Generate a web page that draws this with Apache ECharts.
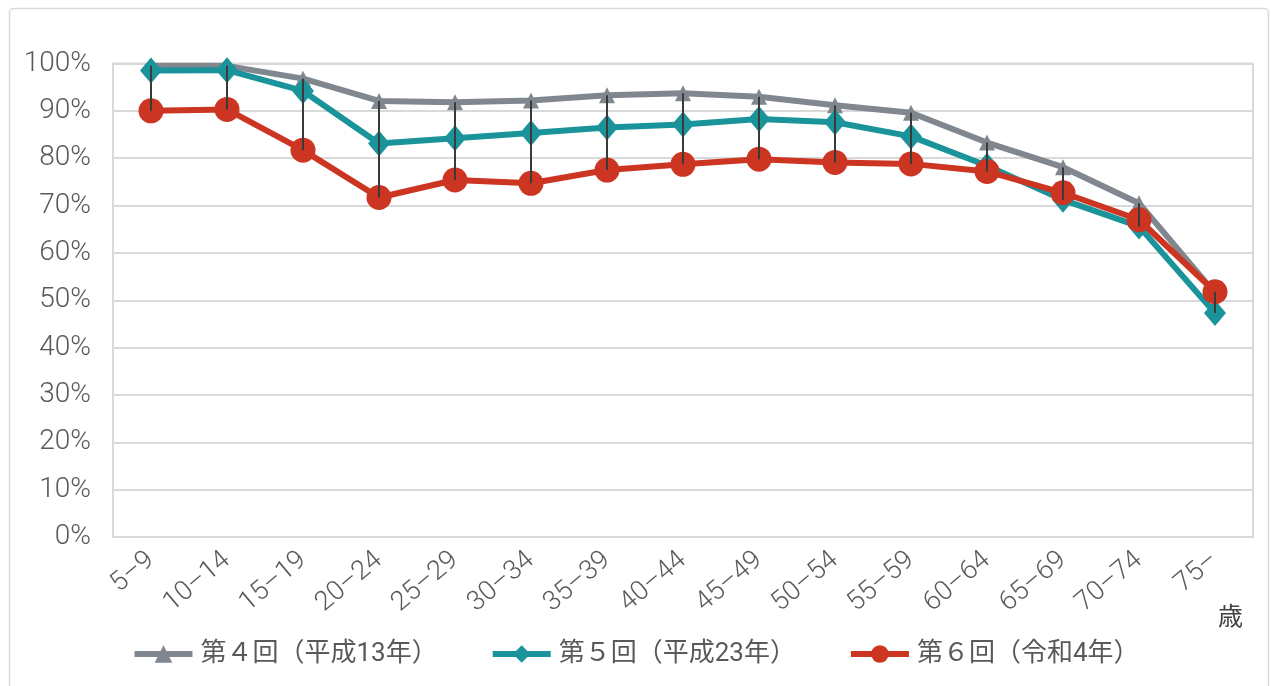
<!DOCTYPE html>
<html><head><meta charset="utf-8">
<script src="https://cdn.jsdelivr.net/npm/echarts@6/dist/echarts.min.js"></script>
<style>html,body{margin:0;padding:0;background:#fff}#c{width:1271px;height:686px}</style>
</head><body><div id="c"></div>
<script>
const categories = ['5–9','10–14','15–19','20–24','25–29','30–34','35–39','40–44','45–49','50–54','55–59','60–64','65–69','70–74','75–'];
const seriesNames = ['第４回（平成13年）','第５回（平成23年）','第６回（令和4年）'];
const survey4 = [99.5, 99.5, 96.8, 92.1, 91.8, 92.2, 93.3, 93.7, 93.0, 91.2, 89.6, 83.3, 78.1, 70.5, 51.5];
const survey5 = [98.5, 98.6, 94.2, 83.1, 84.2, 85.3, 86.5, 87.1, 88.3, 87.6, 84.6, 78.4, 71.2, 65.6, 47.3];
const survey6 = [90.0, 90.3, 81.7, 71.7, 75.4, 74.7, 77.5, 78.7, 79.8, 79.1, 78.8, 77.2, 72.7, 67.0, 51.8];
const unitLabel = '歳';

const FONT = "Roboto,'Noto Sans CJK JP',sans-serif";
const hiLo = categories.map((c, i) => {
  const v = [survey4[i], survey5[i], survey6[i]];
  return [i, Math.max(...v), Math.min(...v)];
});

const chart = echarts.init(document.getElementById('c'));
chart.setOption({
  animation: false,
  backgroundColor: '#fff',
  grid: { left: 113, right: 18, top: 63.5, bottom: 149, show: true, borderColor: '#d9d9d9', borderWidth: 2 },
  xAxis: {
    type: 'category', data: categories, boundaryGap: true,
    axisLine: { show: true, lineStyle: { color: '#d9d9d9', width: 2 } },
    axisTick: { show: false },
    axisLabel: { rotate: 40, margin: 20, color: '#595959', fontSize: 27, fontWeight: 300, fontFamily: FONT, interval: 0 }
  },
  yAxis: {
    type: 'value', min: 0, max: 100, interval: 10,
    axisLine: { show: false }, axisTick: { show: false },
    splitLine: { lineStyle: { color: '#d9d9d9', width: 2 } },
    axisLabel: { formatter: '{value}%', color: '#595959', fontSize: 28, fontWeight: 300, fontFamily: FONT, margin: 22 }
  },
  legend: {
    bottom: 14, left: 'center', itemWidth: 58, itemHeight: 22, itemGap: 52,
    lineStyle: { width: 6 },
    textStyle: { color: '#595959', fontSize: 26, fontFamily: FONT, padding: [0, 0, 0, 3] },
    data: seriesNames
  },
  graphic: [
    { type: 'rect', shape: { x: 9.5, y: 8.5, width: 1259, height: 700, r: 4 }, style: { fill: 'none', stroke: '#d9d9d9', lineWidth: 1.5 }, silent: true },
    { type: 'text', left: 1218, top: 603, style: { text: unitLabel, fill: '#404040', font: "25px 'Noto Sans CJK JP'" } }
  ],
  series: [
    { name: seriesNames[0], type: 'line', data: survey4, symbol: 'triangle', symbolSize: 16,
      lineStyle: { color: '#80878f', width: 6 }, itemStyle: { color: '#80878f' }, z: 2 },
    { name: seriesNames[1], type: 'line', data: survey5, symbol: 'diamond', symbolSize: [22, 26],
      lineStyle: { color: '#1a949a', width: 6 }, itemStyle: { color: '#1a949a' }, z: 3 },
    { name: seriesNames[2], type: 'line', data: survey6, symbol: 'circle', symbolSize: 25,
      lineStyle: { color: '#cc3521', width: 6 }, itemStyle: { color: '#cc3521' }, z: 4 },
    { type: 'custom', data: hiLo, z: 10, silent: true,
      renderItem: function (params, api) {
        const p1 = api.coord([api.value(0), api.value(1)]);
        const p2 = api.coord([api.value(0), api.value(2)]);
        return { type: 'line', shape: { x1: p1[0], y1: p1[1], x2: p2[0], y2: p2[1] }, style: { stroke: '#3a3a3a', lineWidth: 2 } };
      }
    }
  ]
});
</script></body></html>
